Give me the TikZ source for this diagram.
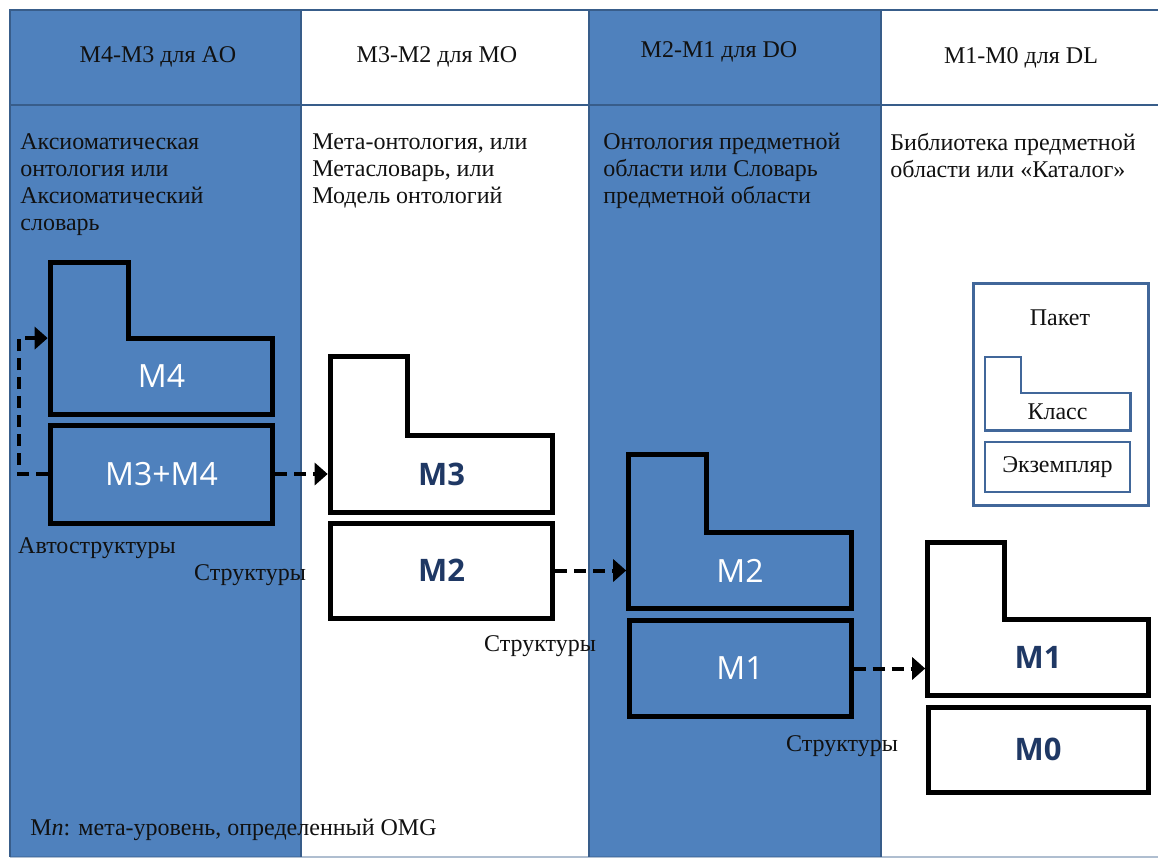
\documentclass[tikz,border=0pt]{standalone}
\usepackage{fontspec}
\setmainfont{Liberation Serif}
\newfontfamily\lvlfont{Open Sans}
\usepackage{tikz}
\usetikzlibrary{arrows.meta,positioning,calc}
\definecolor{colfill}{HTML}{4F81BD}
\definecolor{rule}{HTML}{385D8A}
\definecolor{navy}{HTML}{1F3864}
\definecolor{legend}{HTML}{41679A}
\definecolor{ink}{HTML}{111111}
\tikzset{
  colrule/.style={draw=rule, line width=1pt},
  headtext/.style={font=\fontsize{12}{13.5}\selectfont, text=ink, inner sep=0pt},
  bodytext/.style={font=\fontsize{12}{13.5}\selectfont, text=ink, align=left,
                   anchor=north west, inner sep=0pt},
  tagtext/.style={font=\fontsize{12}{13.5}\selectfont, text=ink, inner sep=0pt},
  lvl/.style={inner sep=0pt, minimum width=111pt,
              font=\lvlfont\fontsize{16}{18}\selectfont},
  lvlbar/.style={lvl, minimum height=38pt},
  lvlbox/.style={lvl, draw=black, line width=2.5pt, minimum height=48pt},
  lshape/.style={draw=black, line width=2.5pt},
  onblue/.style={text=white},
  onwhite/.style={text=navy, font=\lvlfont\bfseries\fontsize{15.5}{18}\selectfont},
  flowarrow/.style={-{Triangle[length=6.5pt,width=11pt]}, line width=2pt,
                    dash pattern=on 6pt off 3.5pt, shorten >=1.2pt},
  legline/.style={draw=legend, line width=1.1pt}
}
\begin{document}
\begin{tikzpicture}[x=0.5pt,y=-0.5pt]
  \useasboundingbox (0,0) rectangle (1158,858);
  \fill[colfill] (10,10) rectangle (301,857);
  \fill[colfill] (589,10) rectangle (881,857);
  \draw[colrule] (1162,10) -- (10,10) -- (10,857);
  \draw[colrule, draw opacity=0.4] (10,857) -- (1162,857);
  \draw[colrule] (10,105) -- (1162,105);
  \foreach \x in {301,589,881}
    \draw[colrule] (\x,10) -- (\x,857);

  \node[headtext] (hao) at (158,57) {M4-M3 для AO};
  \node[headtext] (hmo) at (437,57) {M3-M2 для MO};
  \node[headtext] (hdo) at (719,52) {M2-M1 для DO};
  \node[headtext] (hdl) at (1021,58) {M1-M0 для DL};

  \node[bodytext] (tao) at (20,133) {Аксиоматическая\\онтология или\\Аксиоматический\\словарь};
  \node[bodytext] (tmo) at (312,133) {Мета-онтология, или\\Метасловарь, или\\Модель онтологий};
  \node[bodytext] (tdo) at (603,133) {Онтология предметной\\области или Словарь\\предметной области};
  \node[bodytext] (tdl) at (890,133) {Библиотека предметной\\области или «Каталог»};

  \node[lvlbar, onblue] (ao4) at (161.5,376.5) {M4};
  \draw[lshape] (ao4.south west) -- (ao4.south east) -- (ao4.north east)
    -- ($(ao4.north west)+(78,0)$) -- ++(0,-76) -- ++(-78,0) -- cycle;
  \node[lvlbox, onblue, minimum height=49pt] (ao34) at (161.5,474) {M3+M4};

  \node[lvlbar, onwhite] (mo3) at (441.5,474) {M3};
  \draw[lshape] (mo3.south west) -- (mo3.south east) -- (mo3.north east)
    -- ($(mo3.north west)+(77,0)$) -- ++(0,-79) -- ++(-77,0) -- cycle;
  \node[lvlbox, onwhite, minimum height=47.5pt] (mo2) at (441.5,570.5) {M2};

  \node[lvlbar, onblue] (do2) at (740,570.5) {M2};
  \draw[lshape] (do2.south west) -- (do2.south east) -- (do2.north east)
    -- ($(do2.north west)+(78,0)$) -- ++(0,-78) -- ++(-78,0) -- cycle;
  \node[lvlbox, onblue] (do1) at (740,668.5) {M1};

  \node[lvlbar, onwhite, minimum width=110pt] (dl1) at (1038,657.5) {M1};
  \draw[lshape] (dl1.south west) -- (dl1.south east) -- (dl1.north east)
    -- ($(dl1.north west)+(77,0)$) -- ++(0,-77) -- ++(-77,0) -- cycle;
  \node[lvlbox, onwhite, minimum width=110pt, minimum height=42.5pt] (dl0) at (1038,749.5) {M0};

  \draw[flowarrow] (ao34.west) -- ++(-29,0) |- (ao4.north west);
  \draw[flowarrow] (ao34.east) -- (mo3.west);
  \draw[flowarrow] (mo2.east) -- (do2.west);
  \draw[flowarrow] (do1.east) -- (do1.east -| dl1.west);

  \node[tagtext] (sao) at (97,548) {Автоструктуры};
  \node[tagtext] (smo) at (250,575) {Структуры};
  \node[tagtext] (sdo) at (540,646) {Структуры};
  \node[tagtext] (sdl) at (842,746) {Структуры};

  \node[draw=legend, line width=1.5pt, inner sep=0pt, minimum width=87.5pt,
        minimum height=111pt] (pkg) at (1060.5,394) {};
  \node[tagtext] (pkgname) at (1060,318) {Пакет};
  \node[tagtext, minimum width=72.5pt, minimum height=18.5pt] (cls) at (1057.5,411.5) {Класс};
  \draw[legline] (cls.south west) -- (cls.south east) -- (cls.north east)
    -- ($(cls.north west)+(36,0)$) -- ++(0,-36) -- ++(-36,0) -- cycle;
  \node[tagtext, legline, minimum width=72.5pt, minimum height=25pt] (inst) at (1057.5,467) {Экземпляр};

  \node[tagtext, anchor=west] (note) at (30,830) {M\textit{n}: мета-уровень, определенный OMG};
\end{tikzpicture}
\end{document}
